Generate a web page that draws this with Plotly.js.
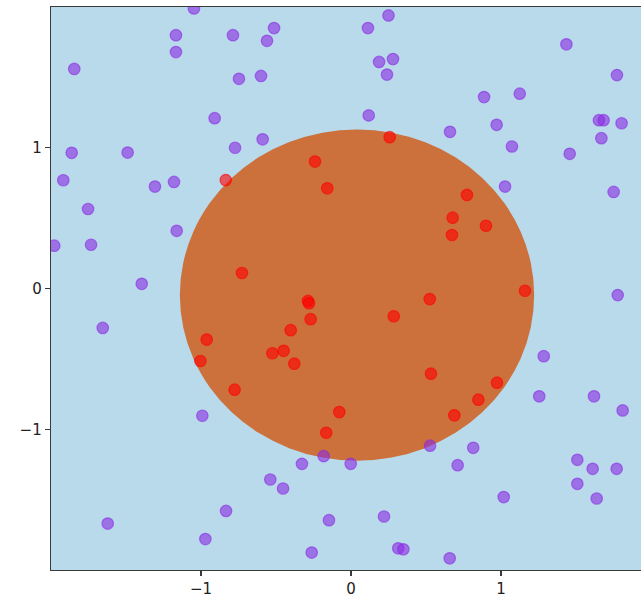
<!DOCTYPE html>
<html>
<head>
<meta charset="utf-8">
<script src="https://cdn.plot.ly/plotly-3.0.1.min.js"></script>
<style>
html,body{margin:0;padding:0;overflow:hidden;background:#fff;}
#chart{width:680px;height:597px;}
</style>
</head>
<body>
<div id="chart"></div>
<script>
// Points outside the circle (purple)
const outsideX = [-1.047,-1.167,-1.167,-0.787,-0.513,-0.56,0.113,0.25,0.187,0.28,0.24,-0.747,-0.60,-0.909,0.118,-0.773,-0.589,-1.845,-1.862,-1.489,-1.918,-1.307,-1.18,-1.753,-1.978,-1.733,-1.162,-1.395,-1.655,-0.991,-1.622,-0.971,
  1.436,1.773,0.887,1.125,0.66,0.971,1.073,1.458,1.653,1.684,1.804,1.669,1.027,1.751,1.778,1.285,1.255,1.62,1.811,0.527,0.815,0.711,1.509,1.611,1.771,1.509,1.638,1.018,0.658,
  -0.182,-0.327,-0.002,-0.538,-0.453,-0.833,-0.147,0.22,-0.262,0.315,0.349];
const outsideY = [1.99,1.80,1.68,1.80,1.85,1.76,1.85,1.94,1.61,1.63,1.52,1.49,1.51,1.21,1.23,1.00,1.06,1.56,0.964,0.966,0.769,0.724,0.757,0.565,0.304,0.311,0.41,0.033,-0.28,-0.904,-1.67,-1.78,
  1.735,1.516,1.36,1.384,1.113,1.163,1.009,0.957,1.196,1.196,1.174,1.068,0.724,0.686,-0.047,-0.481,-0.766,-0.766,-0.866,-1.117,-1.132,-1.255,-1.217,-1.281,-1.281,-1.388,-1.492,-1.482,-1.917,
  -1.191,-1.246,-1.246,-1.357,-1.421,-1.58,-1.646,-1.62,-1.876,-1.846,-1.853];
// Points inside the circle (red)
const insideX = [-0.835,0.258,-0.24,-0.158,-0.727,0.773,0.678,0.90,0.673,1.16,0.525,-0.287,-0.28,0.285,-0.269,-0.402,-0.962,-1.004,-0.524,-0.449,-0.378,0.533,-0.776,-0.078,-0.165,0.973,0.849,0.689];
const insideY = [0.77,1.075,0.902,0.712,0.11,0.665,0.503,0.446,0.38,-0.016,-0.075,-0.088,-0.104,-0.197,-0.218,-0.296,-0.363,-0.515,-0.46,-0.443,-0.534,-0.605,-0.719,-0.878,-1.025,-0.669,-0.79,-0.901];
// Decision circle
const circleCenter = [0.04, -0.047];
const circleRadius = [1.181, 1.177];
const tickValues = [-1, 0, 1];
const axisRange = [-2, 2];

const purple = 'rgba(138,43,226,0.6)';
const red = 'rgba(255,0,0,0.6)';

const traces = [
  {x: outsideX, y: outsideY, type: 'scatter', mode: 'markers',
   marker: {size: 11.5, color: purple, line: {color: purple, width: 1.2}}, hoverinfo: 'skip'},
  {x: insideX, y: insideY, type: 'scatter', mode: 'markers',
   marker: {size: 11.5, color: red, line: {color: red, width: 1.2}}, hoverinfo: 'skip'}
];

const axisCommon = {
  range: axisRange, tickvals: tickValues, showgrid: false, zeroline: false,
  showline: true, mirror: true, linecolor: '#3a3a3a', linewidth: 1.3,
  ticks: 'outside', ticklen: 5, tickwidth: 1.2, tickcolor: '#3a3a3a',
  tickfont: {family: 'DejaVu Sans', size: 15, color: '#222'}
};

const layout = {
  width: 680, height: 597,
  margin: {l: 51, r: 29, t: 7, b: 27},
  paper_bgcolor: '#ffffff',
  plot_bgcolor: 'rgb(185,218,235)',
  showlegend: false,
  xaxis: Object.assign({}, axisCommon),
  yaxis: Object.assign({}, axisCommon),
  shapes: [{
    type: 'circle', xref: 'x', yref: 'y', layer: 'below',
    x0: circleCenter[0] - circleRadius[0], x1: circleCenter[0] + circleRadius[0],
    y0: circleCenter[1] - circleRadius[1], y1: circleCenter[1] + circleRadius[1],
    fillcolor: 'rgb(204,112,60)', line: {width: 0}
  }]
};

Plotly.newPlot('chart', traces, layout, {staticPlot: true, displayModeBar: false});
</script>
</body>
</html>
